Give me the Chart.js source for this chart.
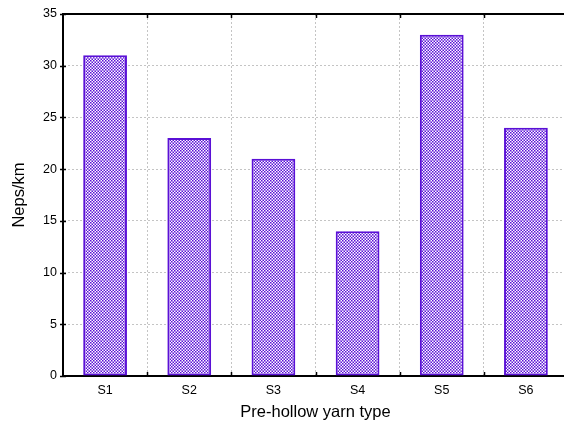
<!DOCTYPE html>
<html>
<head>
<meta charset="utf-8">
<script src="https://cdn.jsdelivr.net/npm/chart.js@4/dist/chart.umd.min.js"></script>
<style>
html,body{margin:0;padding:0;background:#fff;overflow:hidden;width:564px;height:424px;}
#wrap{width:570px;height:424px;}
</style>
</head>
<body>
<div id="wrap"><canvas id="c" width="570" height="424"></canvas></div>
<script>
const categories = ['S1','S2','S3','S4','S5','S6'];
const nepsValues = [31, 23, 21, 14, 33, 24];
const yTicks = [0,5,10,15,20,25,30,35];

const FONT = "'Liberation Sans', Arial, Helvetica, sans-serif";
Chart.defaults.font.family = FONT;
const PURPLE = '#5a10d6';
function makePattern(){
  const c = document.createElement('canvas');
  c.width = 4; c.height = 4;
  const g = c.getContext('2d');
  g.fillStyle = '#ffffff'; g.fillRect(0,0,4,4);
  g.fillStyle = PURPLE;
  g.fillRect(0,0,2,2); g.fillRect(2,2,2,2);
  const p = document.getElementById('c').getContext('2d').createPattern(c,'repeat');
  if (p.setTransform) p.setTransform(new DOMMatrix().scale(0.75));
  return p;
}

const frame = {
  id:'frame',
  afterDraw(chart){
    const {ctx, chartArea:a, scales:{x,y}} = chart;
    ctx.save();
    ctx.strokeStyle = '#000';
    ctx.lineWidth = 2;
    ctx.beginPath();
    ctx.moveTo(a.left-1, a.top); ctx.lineTo(a.right+2, a.top);
    ctx.stroke();
    ctx.lineWidth = 1.5;
    ctx.beginPath();
    yTicks.forEach(v=>{
      const py = Math.round(y.getPixelForValue(v))+0.5;
      ctx.moveTo(a.left-3, py); ctx.lineTo(a.left+3, py);
    });
    for(let i=1;i<categories.length;i++){
      const px = Math.round((x.getPixelForValue(i-1)+x.getPixelForValue(i))/2)+0.5;
      ctx.moveTo(px, a.bottom); ctx.lineTo(px, a.bottom-4);
      ctx.moveTo(px, a.top); ctx.lineTo(px, a.top+4);
    }
    ctx.stroke();
    ctx.restore();
  }
};

new Chart(document.getElementById('c'), {
  type:'bar',
  data:{
    labels: categories,
    datasets:[{
      data: nepsValues,
      backgroundColor: makePattern(),
      borderColor: PURPLE,
      borderWidth: 2,
      borderSkipped: false,
      barPercentage: 0.52,
      categoryPercentage: 1.0
    }]
  },
  options:{
    responsive:false,
    animation:false,
    events:[],
    layout:{padding:{top:14,right:2,left:0,bottom:0}},
    plugins:{legend:{display:false},tooltip:{enabled:false}},
    scales:{
      x:{
        grid:{offset:true,color:'#c4c4c4',drawTicks:false,lineWidth:1},
        border:{display:true,color:'#000',width:2,dash:[2,2]},
        ticks:{color:'#000',font:{family:FONT,size:12.5},padding:7},
        title:{display:true,text:'Pre-hollow yarn type',color:'#000',font:{family:FONT,size:16.5},padding:{top:0,bottom:2}},
        afterFit(s){ s.height = 48; }
      },
      y:{
        min:0,max:35,
        afterBuildTicks(s){ s.ticks = yTicks.map(v=>({value:v})); },
        grid:{color:'#c4c4c4',drawTicks:false,lineWidth:1},
        border:{display:true,color:'#000',width:2,dash:[2,2]},
        ticks:{color:'#000',font:{family:FONT,size:12.5},padding:6},
        title:{display:true,text:'Neps/km',color:'#000',font:{family:FONT,size:16.5},padding:{top:10,bottom:0}},
        afterFit(s){ s.width = 63; }
      }
    }
  },
  plugins:[frame]
});
</script>
</body>
</html>
